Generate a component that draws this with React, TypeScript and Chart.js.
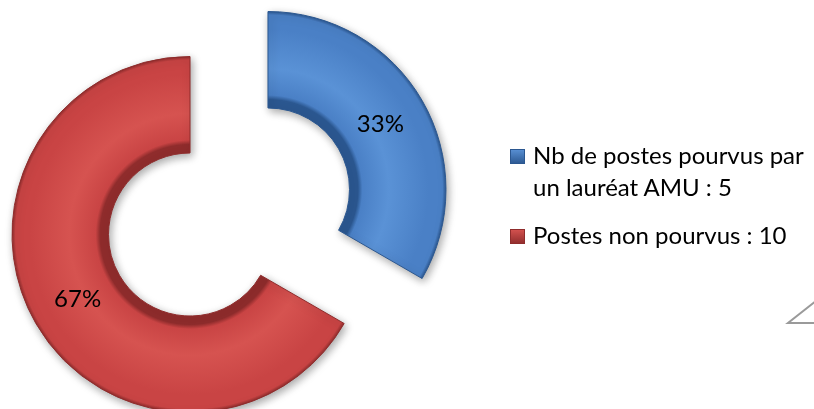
import React, { useEffect, useRef } from 'react';
import { Chart, registerables } from 'chart.js';

Chart.register(...registerables);

// ---- data ----
const categories = ['Nb de postes pourvus par un lauréat AMU', 'Postes non pourvus'];
const values = [5, 10];
const legendLines = [['Nb de postes pourvus par', 'un lauréat AMU : 5'], ['Postes non pourvus : 10']];

// ---- styles ----
const baseColors = ['#4a80c6', '#c94444'];
const lightColors = ['#5a92d6', '#d65350'];
const darkColors = ['#2b5790', '#8f2c2c'];
const FONT = 'Lato, "Open Sans", sans-serif';
const OUTER_R = 178;
const INNER_R = 90;
const EXPLODE = 45;

const explodePlugin = {
  id: 'explode',
  beforeDatasetDraw(chart: any, args: any) {
    const ctx = chart.ctx;
    args.meta.data.forEach((arc: any) => {
      const mid = (arc.startAngle + arc.endAngle) / 2;
      ctx.save();
      ctx.translate(Math.cos(mid) * EXPLODE, Math.sin(mid) * EXPLODE);
      ctx.shadowColor = 'rgba(0,0,0,0.35)';
      ctx.shadowBlur = 8;
      ctx.shadowOffsetX = 2;
      ctx.shadowOffsetY = 3;
      arc.draw(ctx);
      ctx.restore();
    });
    return false;
  },
  afterDatasetsDraw(chart: any) {
    const ctx = chart.ctx;
    const meta = chart.getDatasetMeta(0);
    const data = chart.data.datasets[0].data as number[];
    const total = data.reduce((a, b) => a + b, 0);
    ctx.save();
    ctx.fillStyle = '#000';
    ctx.font = `24px ${FONT}`;
    ctx.textAlign = 'center';
    ctx.textBaseline = 'middle';
    meta.data.forEach((arc: any, i: number) => {
      const mid = (arc.startAngle + arc.endAngle) / 2;
      const rr = (arc.innerRadius + arc.outerRadius) / 2;
      const x = arc.x + Math.cos(mid) * (EXPLODE + rr);
      const y = arc.y + Math.sin(mid) * (EXPLODE + rr);
      ctx.fillText(Math.round((data[i] / total) * 100) + '%', x, y);
    });
    ctx.restore();
  },
};

function sliceFill(context: any) {
  const chart = context.chart;
  const i = context.dataIndex;
  const area = chart.chartArea;
  if (!area) return baseColors[i];
  const cx = (area.left + area.right) / 2;
  const cy = (area.top + area.bottom) / 2;
  const g = chart.ctx.createRadialGradient(cx, cy, INNER_R, cx, cy, OUTER_R);
  g.addColorStop(0, darkColors[i]);
  g.addColorStop(0.05, baseColors[i]);
  g.addColorStop(0.35, lightColors[i]);
  g.addColorStop(0.8, baseColors[i]);
  g.addColorStop(0.96, baseColors[i]);
  g.addColorStop(1, darkColors[i]);
  return g;
}

export default function App() {
  const ref = useRef<HTMLCanvasElement>(null);
  useEffect(() => {
    if (!ref.current) return;
    const chart = new Chart(ref.current, {
      type: 'doughnut',
      data: {
        labels: categories,
        datasets: [
          {
            data: values,
            backgroundColor: sliceFill as any,
            borderColor: darkColors,
            borderWidth: 1,
          },
        ],
      },
      options: {
        animation: false,
        responsive: false,
        radius: OUTER_R,
        cutout: INNER_R,
        layout: { padding: { left: 0, right: 356, top: 15, bottom: 0 } },
        plugins: { legend: { display: false }, tooltip: { enabled: false } },
        events: [],
      } as any,
      plugins: [explodePlugin],
    });
    return () => chart.destroy();
  }, []);

  return (
    <div style={{ position: 'fixed', left: 0, top: 0, width: 814, height: 409, background: '#fff', overflow: 'hidden' }}>
      <canvas ref={ref} width={814} height={409} style={{ position: 'absolute', left: 0, top: 0 }} />
      {legendLines.map((lines, i) => (
        <div
          key={i}
          style={{
            position: 'absolute',
            left: 510,
            top: i === 0 ? 139 : 219,
            fontFamily: FONT,
            fontSize: 24,
            lineHeight: '32px',
            color: '#000',
            whiteSpace: 'nowrap',
          }}
        >
          <span
            style={{
              position: 'absolute',
              left: 0,
              top: 10,
              width: 15,
              height: 15,
              background: `linear-gradient(180deg, ${lightColors[i]}, ${darkColors[i]})`,
              boxShadow: `inset 0 0 0 1px ${darkColors[i]}`,
            }}
          />
          {lines.map((t, j) => (
            <div key={j} style={{ marginLeft: 23 }}>{t}</div>
          ))}
        </div>
      ))}
      <svg width={814} height={409} style={{ position: 'absolute', left: 0, top: 0, pointerEvents: 'none' }}>
        <polyline points="816,301 788,323 816,323" fill="none" stroke="#9a9a9a" strokeWidth={2} />
      </svg>
    </div>
  );
}
